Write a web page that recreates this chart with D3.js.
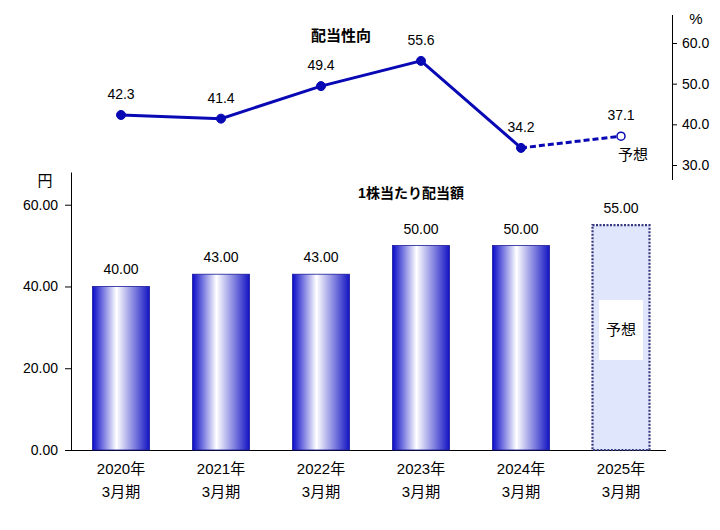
<!DOCTYPE html>
<html><head><meta charset="utf-8">
<script src="https://cdn.jsdelivr.net/npm/d3@7"></script>
<style>
body{margin:0;background:#fff;}
text{font-family:"Liberation Sans","Noto Sans CJK JP",sans-serif;font-size:14px;fill:#000;}
</style></head>
<body><svg id="c" width="720" height="530"></svg>
<script>
const categories = ["2020年|3月期","2021年|3月期","2022年|3月期","2023年|3月期","2024年|3月期","2025年|3月期"];
const dividends = [40.00, 43.00, 43.00, 50.00, 50.00, 55.00];
const payoutRatio = [42.3, 41.4, 49.4, 55.6, 34.2, 37.1];
const forecastFlags = [false, false, false, false, false, true];
const barTicks = [0, 20, 40, 60];
const ratioTicks = [30, 40, 50, 60];

const svg = d3.select("#c");
const defs = svg.append("defs");
const grad = defs.append("linearGradient").attr("id","bg").attr("x1","0").attr("x2","1").attr("y1","0").attr("y2","0");
grad.append("stop").attr("offset","0").attr("stop-color","#0a0ac8");
grad.append("stop").attr("offset","0.42").attr("stop-color","#ffffff");
grad.append("stop").attr("offset","1").attr("stop-color","#1414c4");

const x = d3.scaleBand().domain(categories).range([71,671]).paddingInner(0.43).paddingOuter(0.215);
const yB = d3.scaleLinear().domain([0,68]).range([450,172]);
const yR = d3.scaleLinear().domain([30,60]).range([165,43]);

// bar axis
const gL = svg.append("g").attr("transform","translate(71,0)")
  .call(d3.axisLeft(yB).tickValues(barTicks).tickFormat(d3.format(".2f")).tickSize(6).tickSizeOuter(0));
gL.select(".domain").attr("stroke","#000");
gL.selectAll("text").attr("x",-13).style("font-size","14px");
svg.append("line").attr("x1",65).attr("x2",666).attr("y1",450.5).attr("y2",450.5).attr("stroke","#000");
svg.append("text").attr("x",45).attr("y",186).attr("text-anchor","middle").style("font-size","15px").text("円");

// bars
categories.forEach((c,i)=>{
  const bx = x(c), bw = x.bandwidth(), by = yB(dividends[i]);
  if(!forecastFlags[i]){
    svg.append("rect").attr("x",bx).attr("y",by).attr("width",bw).attr("height",yB(0)-by)
      .attr("fill","url(#bg)").attr("stroke","#1a1a9a").attr("stroke-width",0.8);
  } else {
    svg.append("rect").attr("x",bx).attr("y",by).attr("width",bw).attr("height",yB(0)-by)
      .attr("fill","#e0e6fc").attr("stroke","#34387e").attr("stroke-width",2.2).attr("stroke-dasharray","2,1.5");
    svg.append("rect").attr("x",bx+bw/2-22).attr("y",300).attr("width",44).attr("height",60).attr("fill","#fff");
    svg.append("text").attr("x",bx+bw/2).attr("y",335).attr("text-anchor","middle").style("font-size","15px").text("予想");
  }
  svg.append("text").attr("x",bx+bw/2).attr("y",by-12).attr("text-anchor","middle").text(d3.format(".2f")(dividends[i]));
  const parts = c.split("|");
  svg.append("text").attr("x",bx+bw/2).attr("y",474).attr("text-anchor","middle").style("font-size","15px").text(parts[0]);
  svg.append("text").attr("x",bx+bw/2).attr("y",497).attr("text-anchor","middle").style("font-size","15px").text(parts[1]);
});
svg.append("text").attr("x",411).attr("y",198).attr("text-anchor","middle").style("font-weight","bold").style("font-size","14px").text("1株当たり配当額");

// right axis
const gR = svg.append("g").attr("transform","translate(672,0)")
  .call(d3.axisRight(yR).tickValues(ratioTicks).tickFormat(d3.format(".1f")).tickSize(5).tickSizeOuter(0));
gR.select(".domain").remove();
svg.append("line").attr("x1",672.5).attr("x2",672.5).attr("y1",15).attr("y2",180).attr("stroke","#000");
gR.selectAll("text").attr("x",10).style("font-size","14px");
svg.append("text").attr("x",696).attr("y",24).attr("text-anchor","middle").style("font-size","15px").text("%");

// line
const cx = c => x(c)+x.bandwidth()/2;
const pts = categories.map((c,i)=>[cx(c), yR(payoutRatio[i])]);
const line = d3.line();
const solidPts = pts.filter((p,i)=>!forecastFlags[i]);
svg.append("path").attr("d",line(solidPts)).attr("fill","none").attr("stroke","#0808b4").attr("stroke-width",3);
svg.append("path").attr("d",line(pts.slice(4))).attr("fill","none").attr("stroke","#0808b4").attr("stroke-width",3).attr("stroke-dasharray","6,3");
pts.forEach((p,i)=>{
  svg.append("circle").attr("cx",p[0]).attr("cy",p[1]).attr("r",forecastFlags[i]?4:4.5)
    .attr("fill",forecastFlags[i]?"#fff":"#0808b4").attr("stroke","#0808b4").attr("stroke-width",forecastFlags[i]?1.5:1);
  svg.append("text").attr("x",p[0]).attr("y",p[1]-16).attr("text-anchor","middle").text(d3.format(".1f")(payoutRatio[i]));
  if(forecastFlags[i]) svg.append("text").attr("x",p[0]+12).attr("y",p[1]+24).attr("text-anchor","middle").style("font-size","15px").text("予想");
});
svg.append("text").attr("x",341).attr("y",41).attr("text-anchor","middle").style("font-weight","bold").style("font-size","15px").text("配当性向");
</script></body></html>
